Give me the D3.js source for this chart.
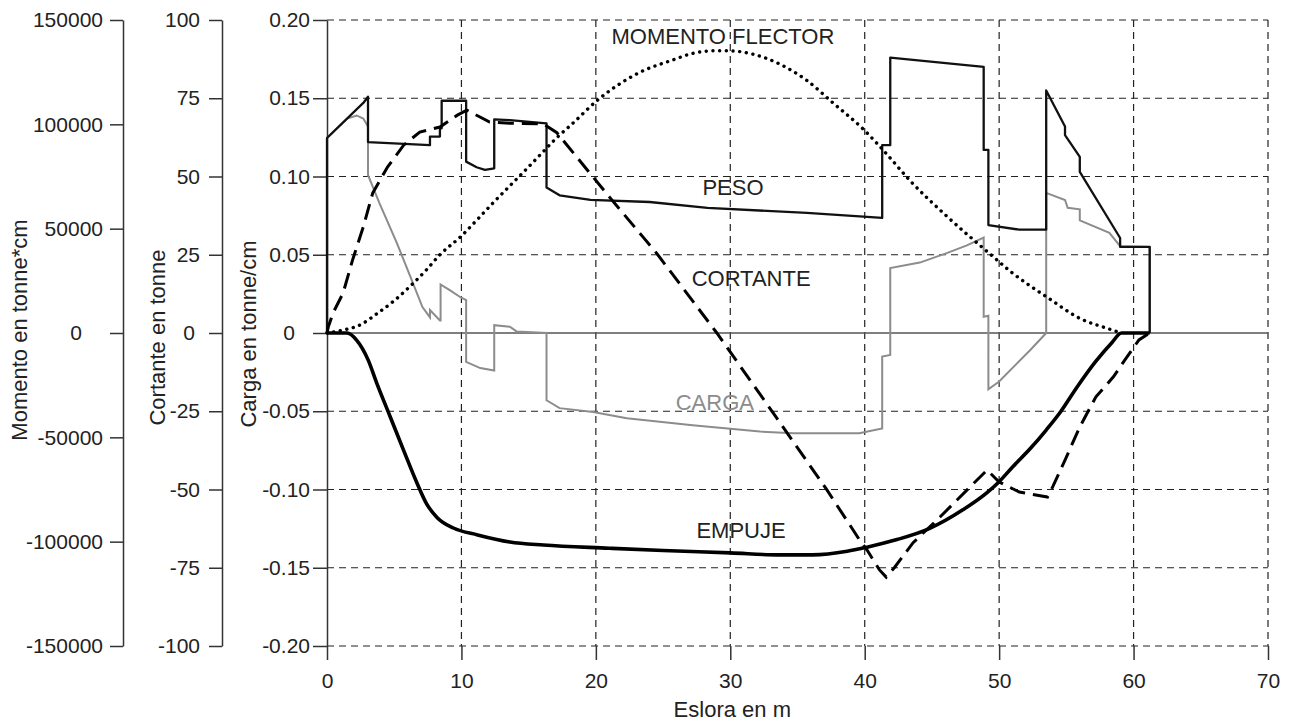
<!DOCTYPE html>
<html>
<head>
<meta charset="utf-8">
<script src="https://cdn.jsdelivr.net/npm/d3@7"></script>
<style>
  body { margin: 0; background: #fff; }
  text { font-family: "Liberation Sans", Arial, sans-serif; }
</style>
</head>
<body>
<script>
// tick labels of the four axes
var esloraTicks   = [0, 10, 20, 30, 40, 50, 60, 70];
var cargaTicks    = [0.20, 0.15, 0.10, 0.05, 0, -0.05, -0.10, -0.15, -0.20];
var cortanteTicks = [100, 75, 50, 25, 0, -25, -50, -75, -100];
var momentoTicks  = [150000, 100000, 50000, 0, -50000, -100000, -150000];

// [eslora m, carga tonne/cm]
var peso = [[0,0],[0,0.1246],[2.7,0.147],[3.05,0.151],[3.05,0.122],[7.66,0.120],[7.66,0.1255],[8.4,0.1255],
  [8.4,0.1308],[8.53,0.1308],[8.53,0.1484],[10.35,0.1484],[10.35,0.1095],[11.13,0.1059],[11.75,0.1042],
  [12.44,0.1052],[12.44,0.1365],[13.6,0.136],[16.33,0.134],[16.33,0.093],[17.3,0.088],[19.6,0.085],
  [24.0,0.0837],[28.3,0.080],[35.7,0.0767],[41.3,0.0735],[41.3,0.120],[41.9,0.120],[41.9,0.176],
  [48.85,0.170],[48.85,0.117],[49.2,0.117],[49.2,0.069],[51.5,0.066],[53.5,0.066],[53.5,0.155],
  [54.9,0.132],[54.9,0.1265],[56.0,0.1125],[56.0,0.103],[59.0,0.0607],[59.0,0.055],[61.2,0.055],[61.2,0]];

var carga = [[0,0],[0,0.1246],[1.5,0.137],[2.2,0.139],[2.7,0.137],[3.05,0.132],[3.05,0.101],[3.9,0.083],
  [5.2,0.0575],[6.2,0.036],[7.1,0.0166],[7.66,0.010],[7.66,0.0147],[8.4,0.008],[8.45,0.008],[8.45,0.031],
  [9.1,0.0275],[9.9,0.023],[10.35,0.021],[10.35,-0.0185],[11.4,-0.0224],[12.44,-0.024],[12.44,0.005],
  [13.6,0.004],[14.1,0.001],[16.33,0],[16.33,-0.043],[17.3,-0.048],[19.8,-0.0505],[22.3,-0.0545],
  [27.2,-0.059],[32.2,-0.063],[34.7,-0.064],[39.6,-0.064],[41.3,-0.061],[41.3,-0.015],[41.9,-0.014],
  [41.9,0.0415],[44.1,0.045],[46.1,0.051],[47.6,0.056],[48.85,0.061],[48.85,0.0104],[49.2,0.011],
  [49.2,-0.036],[50.0,-0.031],[52.3,-0.011],[53.5,0],[53.5,0.0895],[54.9,0.085],[55.1,0.080],[56.0,0.079],
  [56.0,0.072],[58.2,0.064],[59.0,0.0555],[61.2,0.055],[61.2,0]];

var empuje = [[0,0],[1.5,0],[2.2,-0.0045],[3.05,-0.017],[3.7,-0.032],[4.7,-0.0535],[5.7,-0.075],[6.7,-0.096],
  [7.4,-0.109],[8.2,-0.118],[9.4,-0.1246],[11.2,-0.129],[13.6,-0.1335],[16.1,-0.1355],[21.0,-0.1375],
  [25.0,-0.139],[30.0,-0.1405],[33.7,-0.1418],[36.1,-0.1418],[38.7,-0.1395],[40.1,-0.137],[42.4,-0.132],
  [44.8,-0.125],[47.3,-0.113],[49.1,-0.102],[50.0,-0.095],[51.0,-0.0856],[52.3,-0.074],[53.5,-0.062],
  [54.6,-0.050],[55.8,-0.0345],[57.2,-0.018],[58.4,-0.006],[59.1,0],[61.2,0]];

// [eslora m, cortante tonne]
var cortante = [[0,0],[0.1,2],[0.45,6.4],[1.2,12.8],[1.9,23.3],[2.7,33.9],[3.4,44.7],[4.5,53],[5.7,60],
  [6.9,64.2],[8.4,65.8],[9.7,69.6],[10.4,71.2],[12.1,67.4],[13.6,67],[16.1,66.8],[17.1,64],[19.0,54],
  [21.0,43.5],[23.5,30.7],[24.5,25.6],[29.0,0],[33.2,-25.6],[37.2,-50.2],[39.6,-66],[40.2,-69.5],
  [41.1,-75.7],[41.6,-78],[42.2,-75],[43.6,-67],[45.6,-58.8],[47.6,-50.2],[49.1,-43.8],[50.0,-47.6],
  [51.5,-50.8],[53.6,-52.4],[54.0,-49],[54.9,-40.6],[56.0,-30],[57.2,-20.4],[58.5,-14],[59.5,-7.7],
  [60.4,-2.2],[61.2,0]];

// [eslora m, momento tonne*cm]
var momento = [[0,0],[1.2,1400],[2.5,4000],[3.7,9200],[5.0,15500],[6.2,22500],[7.4,30300],[8.4,37500],
  [10.0,46500],[11.2,54500],[12.3,62000],[13.6,70500],[14.6,77000],[15.8,85000],[17.0,93000],
  [18.3,100600],[20.2,112000],[21.8,119500],[23.3,125000],[25.7,130800],[27.2,134000],[29.0,135300],
  [30.0,135200],[31.7,133600],[33.7,128800],[35.7,121000],[37.6,110500],[40.0,97000],[41.6,86000],
  [43.3,73500],[46.1,56000],[49.3,38000],[51.0,28700],[53.6,17000],[56.1,6700],
  [58.0,2300],[59.1,0]];

// curve names, placed in eslora / carga units
var labelText = ["MOMENTO FLECTOR", "PESO", "CORTANTE", "CARGA", "EMPUJE"];
var labelAt = [[29.45,0.1847],[30.2,0.0882],[31.55,0.0300],[28.85,-0.0492],[30.8,-0.1310]];

// set the dimensions and margins of the graph
var margin = {top: 20, right: 25, bottom: 76, left: 327},
    width = 1293 - margin.left - margin.right,
    height = 722 - margin.top - margin.bottom;

var svg = d3.select("body")
  .append("svg")
    .attr("width", 1293)
    .attr("height", 722)
  .append("g")
    .attr("transform", "translate(" + margin.left + "," + margin.top + ")");

var x = d3.scaleLinear().domain([0, 70]).range([0, width]);
var yCarga = d3.scaleLinear().domain([-0.2, 0.2]).range([height, 0]);
var yCortante = d3.scaleLinear().domain([-100, 100]).range([height, 0]);
var yMomento = d3.scaleLinear().domain([-150000, 150000]).range([height, 0]);

// dashed grid
svg.append("g").selectAll("line")
  .data(cargaTicks.filter(function(d) { return d !== 0; }))
  .enter().append("line")
    .attr("x1", 0).attr("x2", width)
    .attr("y1", function(d) { return yCarga(d); })
    .attr("y2", function(d) { return yCarga(d); })
    .attr("stroke", "#222").attr("stroke-width", 1.2)
    .attr("stroke-dasharray", "7,5");

svg.append("g").selectAll("line")
  .data(esloraTicks.filter(function(d) { return d !== 0; }))
  .enter().append("line")
    .attr("x1", function(d) { return x(d); })
    .attr("x2", function(d) { return x(d); })
    .attr("y1", 0).attr("y2", height)
    .attr("stroke", "#222").attr("stroke-width", 1.2)
    .attr("stroke-dasharray", "7,5");

// zero line
svg.append("line")
  .attr("x1", 0).attr("x2", width)
  .attr("y1", yCarga(0)).attr("y2", yCarga(0))
  .attr("stroke", "#555").attr("stroke-width", 1.5);

function styleAxis(g, size) {
  g.attr("font-size", size)
   .attr("font-family", "'Liberation Sans', Arial, sans-serif")
   .attr("color", "#222");
  g.selectAll("path, line").attr("stroke", "#333").attr("stroke-width", 1.5);
}

// zero labels sit centred, not right aligned
function centreZero(g, dx) {
  g.selectAll(".tick text")
    .filter(function(d) { return d === 0; })
    .attr("text-anchor", "middle")
    .attr("x", dx);
}

// Carga axis
var gCarga = svg.append("g")
  .call(d3.axisLeft(yCarga)
    .tickValues(cargaTicks)
    .tickSize(14).tickPadding(3).tickSizeOuter(0)
    .tickFormat(function(d) { return d === 0 ? "0" : d.toFixed(2); }));
styleAxis(gCarga, 21);
centreZero(gCarga, -38);

// Cortante axis
var gCortante = svg.append("g")
  .attr("transform", "translate(-105,0)")
  .call(d3.axisLeft(yCortante)
    .tickValues(cortanteTicks)
    .tickSize(13).tickPadding(9).tickSizeOuter(0)
    .tickFormat(function(d) { return String(d); }));
styleAxis(gCortante, 21);
centreZero(gCortante, -33);

// Momento axis
var gMomento = svg.append("g")
  .attr("transform", "translate(-204,0)")
  .call(d3.axisLeft(yMomento)
    .tickValues(momentoTicks)
    .tickSize(13).tickPadding(7).tickSizeOuter(0)
    .tickFormat(function(d) { return String(d); }));
styleAxis(gMomento, 21);
centreZero(gMomento, -47);

// X axis
var gX = svg.append("g")
  .attr("transform", "translate(0," + height + ")")
  .call(d3.axisBottom(x)
    .tickValues(esloraTicks)
    .tickSize(14).tickPadding(13).tickSizeOuter(0));
gX.select(".domain").remove();
styleAxis(gX, 21);

// axis titles
svg.append("text")
  .attr("x", x(30) + 2).attr("y", height + 71)
  .attr("text-anchor", "middle").attr("font-size", 22).attr("fill", "#222")
  .text("Eslora en m");

var titles = [["Momento en tonne*cm", -300, 310], ["Cortante en tonne", -162, 317.5], ["Carga en tonne/cm", -71, 314]];
titles.forEach(function(t) {
  svg.append("text")
    .attr("transform", "translate(" + t[1] + "," + t[2] + ")rotate(-90)")
    .attr("text-anchor", "middle").attr("font-size", 22).attr("fill", "#222")
    .text(t[0]);
});

// curves
var lineCarga = d3.line()
  .x(function(d) { return x(d[0]); })
  .y(function(d) { return yCarga(d[1]); });

svg.append("path").datum(carga)
  .attr("fill", "none").attr("stroke", "#8c8c8c").attr("stroke-width", 2)
  .attr("d", lineCarga);

svg.append("path").datum(peso)
  .attr("fill", "none").attr("stroke", "#111").attr("stroke-width", 2.3)
  .attr("stroke-linejoin", "round")
  .attr("d", lineCarga);

svg.append("path").datum(empuje)
  .attr("fill", "none").attr("stroke", "#000").attr("stroke-width", 3.6)
  .attr("stroke-linejoin", "round")
  .attr("d", d3.line()
    .curve(d3.curveMonotoneX)
    .x(function(d) { return x(d[0]); })
    .y(function(d) { return yCarga(d[1]); }));

svg.append("path").datum(cortante)
  .attr("fill", "none").attr("stroke", "#000").attr("stroke-width", 3)
  .attr("stroke-dasharray", "16,8")
  .attr("d", d3.line()
    .x(function(d) { return x(d[0]); })
    .y(function(d) { return yCortante(d[1]); }));

svg.append("path").datum(momento)
  .attr("fill", "none").attr("stroke", "#000").attr("stroke-width", 3.4)
  .attr("stroke-linecap", "round")
  .attr("stroke-dasharray", "0.1,6.6")
  .attr("d", d3.line()
    .curve(d3.curveMonotoneX)
    .x(function(d) { return x(d[0]); })
    .y(function(d) { return yMomento(d[1]); }));

// curve names
svg.append("g").selectAll("text")
  .data(labelText)
  .enter().append("text")
    .attr("x", function(d, i) { return x(labelAt[i][0]); })
    .attr("y", function(d, i) { return yCarga(labelAt[i][1]); })
    .attr("text-anchor", "middle")
    .attr("font-size", 22)
    .attr("fill", function(d) { return d === "CARGA" ? "#8c8c8c" : "#222"; })
    .text(function(d) { return d; });
</script>
</body>
</html>
